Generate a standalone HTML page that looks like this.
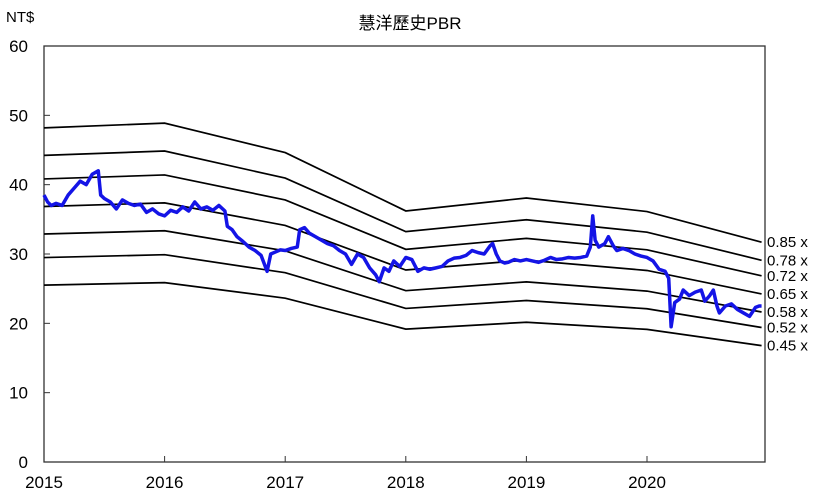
<!DOCTYPE html>
<html><head><meta charset="utf-8"><style>
body{margin:0;background:#fff;}
svg text{font-family:"Liberation Sans","Noto Sans CJK TC",sans-serif;fill:#000;}
</style></head><body>
<svg width="820" height="498" xmlns="http://www.w3.org/2000/svg">
<text x="410" y="29" font-size="17" text-anchor="middle">慧洋歷史PBR</text>
<text x="6" y="22" font-size="15">NT$</text>
<rect x="44" y="46" width="721" height="416" fill="none" stroke="#333" stroke-width="1.3"/>
<g id="yticks"></g><g id="xticks"></g><g id="bands"></g><g id="price"></g>
</svg>
<script>
const years=[2015,2016,2017,2018,2019,2020];
const yTicks=[0,10,20,30,40,50,60];
const multiples=[0.85,0.78,0.72,0.65,0.58,0.52,0.45];
const bvDates=[2015,2016,2017,2018,2019,2020,2020.95];
const bvValues=[56.7,57.5,52.5,42.6,44.8,42.5,37.3];
const priceDates=[2015,2015.03,2015.06,2015.1,2015.15,2015.2,2015.25,2015.3,2015.35,2015.4,2015.45,2015.47,2015.5,2015.55,2015.6,2015.65,2015.7,2015.75,2015.8,2015.85,2015.9,2015.95,2016,2016.05,2016.1,2016.15,2016.2,2016.25,2016.3,2016.35,2016.4,2016.45,2016.5,2016.52,2016.56,2016.6,2016.65,2016.7,2016.75,2016.8,2016.85,2016.88,2016.92,2016.96,2017,2017.05,2017.1,2017.12,2017.16,2017.2,2017.25,2017.3,2017.35,2017.4,2017.45,2017.5,2017.55,2017.6,2017.65,2017.7,2017.75,2017.78,2017.82,2017.86,2017.9,2017.95,2018,2018.05,2018.1,2018.15,2018.2,2018.25,2018.3,2018.35,2018.4,2018.45,2018.5,2018.55,2018.6,2018.65,2018.7,2018.72,2018.75,2018.78,2018.82,2018.85,2018.9,2018.95,2019,2019.05,2019.1,2019.15,2019.2,2019.25,2019.3,2019.35,2019.4,2019.45,2019.5,2019.53,2019.55,2019.57,2019.6,2019.65,2019.68,2019.72,2019.75,2019.8,2019.85,2019.9,2019.95,2020,2020.05,2020.1,2020.15,2020.18,2020.2,2020.23,2020.27,2020.3,2020.35,2020.4,2020.45,2020.48,2020.52,2020.55,2020.58,2020.6,2020.65,2020.7,2020.75,2020.8,2020.85,2020.9,2020.93,2020.95];
const priceValues=[38.5,37.5,37,37.3,37,38.5,39.5,40.5,40,41.5,42,38.5,38,37.5,36.5,37.8,37.3,37,37.2,36,36.5,35.8,35.5,36.3,36,36.8,36.2,37.5,36.5,36.8,36.3,37,36.2,34,33.5,32.5,31.8,31,30.5,29.8,27.5,30,30.3,30.6,30.5,30.8,31,33.5,33.8,33,32.5,32,31.5,31.2,30.5,30,28.5,30,29.5,28,27,26,28,27.5,29,28.2,29.5,29.2,27.5,28,27.8,28,28.2,29,29.4,29.5,29.8,30.5,30.2,30,31.2,31.5,30,29,28.7,28.8,29.2,29,29.2,29,28.8,29.1,29.5,29.2,29.3,29.5,29.4,29.5,29.7,31,35.5,32,31,31.5,32.5,31.2,30.5,30.8,30.5,30,29.7,29.5,29,27.8,27.5,26.5,19.5,23,23.5,24.8,24,24.5,24.8,23.2,24,24.8,22.5,21.5,22.5,22.8,22,21.5,21,22.3,22.5,22.5];
const X0=44,X1=765,Y0=462,Y1=46;
const xs=t=>X0+(t-2015)*((647-44)/5);
const ys=v=>Y0-v*(Y0-Y1)/60;
const NS="http://www.w3.org/2000/svg";
function mk(tag,attrs,parent){const e=document.createElementNS(NS,tag);for(const k in attrs)e.setAttribute(k,attrs[k]);document.getElementById(parent).appendChild(e);return e;}
yTicks.forEach(v=>{
 const t=mk('text',{x:28,y:ys(v)+6,'font-size':17,'text-anchor':'end'},'yticks');
 t.textContent=v;
 
 
 const l=mk('line',{x1:44,x2:50,y1:ys(v),y2:ys(v),stroke:'#333'},'yticks');
 
 
});
years.forEach(y=>{
 const t=mk('text',{x:xs(y),y:488,'font-size':17,'text-anchor':'middle'},'xticks');
 t.textContent=y;
 
 
 const l=mk('line',{x1:xs(y),x2:xs(y),y1:456,y2:462,stroke:'#333'},'xticks');
 
 
});
multiples.forEach(m=>{
 const pts=bvDates.map((d,i)=>xs(d)+','+ys(bvValues[i]*m)).join(' ');
 const p=mk('polyline',{points:pts,fill:'none',stroke:'#000','stroke-width':1.7},'bands');
 
 
 const t=mk('text',{x:767,y:ys(bvValues[bvValues.length-1]*m)+5,'font-size':15},'bands');
 t.textContent=m.toFixed(2)+' x';
 
 
});
const pp=mk('polyline',{points:priceDates.map((d,i)=>xs(d)+','+ys(priceValues[i])).join(' '),fill:'none',stroke:'#1414e6','stroke-width':3.5,'stroke-linejoin':'round'},'price');


</script>
</body></html>
